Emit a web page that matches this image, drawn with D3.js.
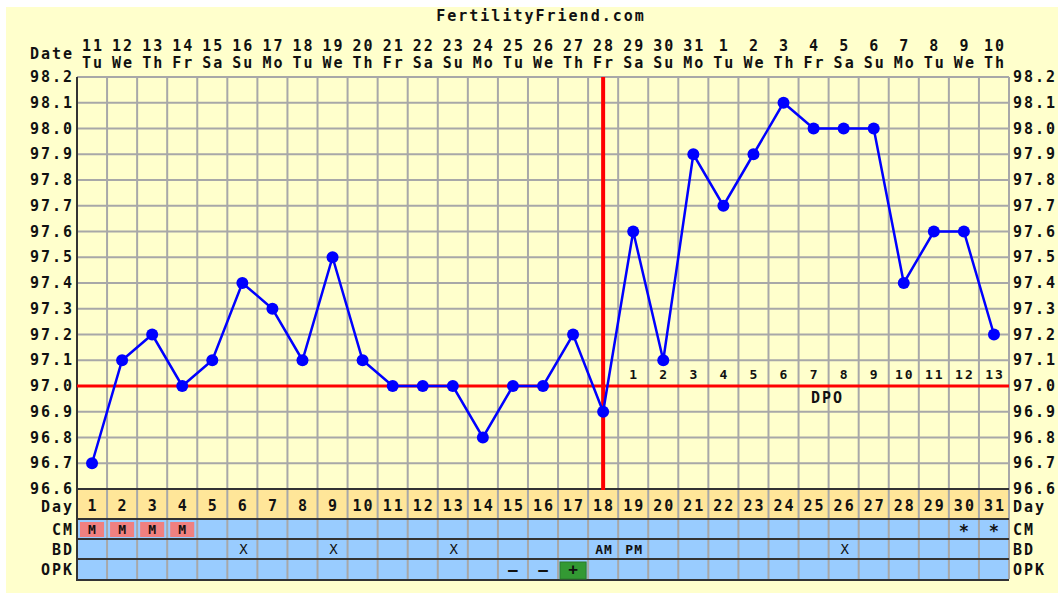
<!DOCTYPE html>
<html>
<head>
<meta charset="utf-8">
<script src="https://cdn.jsdelivr.net/npm/d3@7"></script>
<style>
  body { margin: 0; background: #fff; }
  text { font-family: "DejaVu Sans Mono", monospace; font-weight: bold; fill: #111; letter-spacing: 2px; }
</style>
</head>
<body>
<script>
// chart data
const cycleDays = d3.range(1, 32)
const dates = ['11','12','13','14','15','16','17','18','19','20','21','22','23','24','25','26','27','28','29','30','31','1','2','3','4','5','6','7','8','9','10']
const weekdays = ['Tu','We','Th','Fr','Sa','Su','Mo','Tu','We','Th','Fr','Sa','Su','Mo','Tu','We','Th','Fr','Sa','Su','Mo','Tu','We','Th','Fr','Sa','Su','Mo','Tu','We','Th']
const temps = [96.7,97.1,97.2,97.0,97.1,97.4,97.3,97.1,97.5,97.1,97.0,97.0,97.0,96.8,97.0,97.0,97.2,96.9,97.6,97.1,97.9,97.7,97.9,98.1,98.0,98.0,98.0,97.4,97.6,97.6,97.2]
const tempTicks = [96.6,96.7,96.8,96.9,97.0,97.1,97.2,97.3,97.4,97.5,97.6,97.7,97.8,97.9,98.0,98.1,98.2]
const coverline = 97.0
const ovulationDay = 18
const dpo = [1,2,3,4,5,6,7,8,9,10,11,12,13]   // days 19..31
const cm = [{day:1,v:'M'},{day:2,v:'M'},{day:3,v:'M'},{day:4,v:'M'},{day:30,v:'*'},{day:31,v:'*'}]
const bd = [{day:6,v:'X'},{day:9,v:'X'},{day:13,v:'X'},{day:18,v:'AM'},{day:19,v:'PM'},{day:26,v:'X'}]
const opk = [{day:15,v:'-'},{day:16,v:'-'},{day:17,v:'+'}]

const width = 1058, height = 593
const pLeft = 77, pRight = 1009, pTop = 77, pBottom = 489
const rowH = 20, dayRowH = 30
const fs = '15px'

const svg = d3.select('body').append('svg')
    .attr('width', width)
    .attr('height', height)

svg.append('rect').attr('x', 6).attr('y', 7)
    .attr('width', width).attr('height', height)
    .attr('fill', '#FFFFCC')

const x = d3.scaleBand().domain(cycleDays).range([pLeft, pRight])
const y = d3.scaleLinear().domain([96.6, 98.2]).range([pBottom, pTop])
const cx = d => x(d) + x.bandwidth() / 2 + 1   // +1 offsets trailing letter-spacing

// title
svg.append('text').attr('x', 541).attr('y', 21)
    .attr('text-anchor', 'middle').style('font-size', fs)
    .text('FertilityFriend.com')

// date header
svg.append('text').attr('x', 74).attr('y', 59).attr('text-anchor', 'end')
    .style('font-size', fs).text('Date')
svg.selectAll('.dnum').data(cycleDays).enter().append('text')
    .attr('x', cx).attr('y', 51).attr('text-anchor', 'middle')
    .style('font-size', fs).text((d, i) => dates[i])
svg.selectAll('.wday').data(cycleDays).enter().append('text')
    .attr('x', cx).attr('y', 68).attr('text-anchor', 'middle')
    .style('font-size', fs).text((d, i) => weekdays[i])

// row bands below the chart
const rowsTop = pBottom + dayRowH
svg.append('rect').attr('x', pLeft).attr('y', pBottom)
    .attr('width', pRight - pLeft).attr('height', dayRowH).attr('fill', '#FFE699')
svg.append('rect').attr('x', pLeft).attr('y', rowsTop)
    .attr('width', pRight - pLeft).attr('height', rowH * 3 + 1).attr('fill', '#99CCFF')

// grid
const g = svg.append('g')
g.selectAll('.hl').data(tempTicks).enter().append('line')
    .attr('x1', pLeft).attr('x2', pRight)
    .attr('y1', d => y(d)).attr('y2', d => y(d))
    .attr('stroke', '#A8A8A8').attr('stroke-width', 2)
g.selectAll('.vl').data(cycleDays.slice(1).concat([32])).enter().append('line')
    .attr('x1', d => d === 32 ? pRight : x(d)).attr('x2', d => d === 32 ? pRight : x(d))
    .attr('y1', pTop).attr('y2', rowsTop + rowH * 3)
    .attr('stroke', '#A8A8A8').attr('stroke-width', 2)

// dark row separators and left border
;[pBottom, rowsTop, rowsTop + rowH, rowsTop + rowH * 2, rowsTop + rowH * 3 + 1].forEach(yy => {
    svg.append('line').attr('x1', pLeft).attr('x2', pRight)
        .attr('y1', yy).attr('y2', yy)
        .attr('stroke', '#333').attr('stroke-width', 2)
})
svg.append('line').attr('x1', pLeft).attr('x2', pLeft)
    .attr('y1', pTop).attr('y2', rowsTop + rowH * 3 + 2)
    .attr('stroke', '#333').attr('stroke-width', 2)

// y axis labels on both sides
svg.selectAll('.yl').data(tempTicks).enter().append('text')
    .attr('x', 74).attr('y', d => y(d) + 5).attr('text-anchor', 'end')
    .style('font-size', fs).text(d => d.toFixed(1))
svg.selectAll('.yr').data(tempTicks).enter().append('text')
    .attr('x', 1013).attr('y', d => y(d) + 5)
    .style('font-size', fs).text(d => d.toFixed(1))

// row labels
const rowLabels = [['Day', pBottom + dayRowH / 2 + 2], ['CM', rowsTop + rowH / 2], ['BD', rowsTop + rowH * 1.5], ['OPK', rowsTop + rowH * 2.5]]
rowLabels.forEach(([t, yy]) => {
    svg.append('text').attr('x', 74).attr('y', yy + 6).attr('text-anchor', 'end')
        .style('font-size', fs).text(t)
    svg.append('text').attr('x', 1013).attr('y', yy + 6)
        .style('font-size', fs).text(t)
})

// cycle day numbers
svg.selectAll('.cd').data(cycleDays).enter().append('text')
    .attr('x', cx).attr('y', pBottom + dayRowH / 2 + 7).attr('text-anchor', 'middle')
    .style('font-size', fs).text(d => d)

// CM row
svg.selectAll('.cmbox').data(cm.filter(d => d.v === 'M')).enter().append('rect')
    .attr('x', d => x(d.day) + 3).attr('y', rowsTop + 3)
    .attr('width', x.bandwidth() - 6).attr('height', rowH - 5)
    .attr('fill', '#F08080')
svg.selectAll('.cmt').data(cm).enter().append('text')
    .attr('x', d => cx(d.day)).attr('y', d => rowsTop + rowH / 2 + (d.v === '*' ? 8 : 5))
    .attr('text-anchor', 'middle')
    .style('font-size', d => d.v === '*' ? '17px' : '13px').text(d => d.v)

// BD row
svg.selectAll('.bdt').data(bd).enter().append('text')
    .attr('x', d => cx(d.day)).attr('y', rowsTop + rowH * 1.5 + 5)
    .attr('text-anchor', 'middle')
    .style('font-size', d => d.v === 'X' ? '14px' : '13px')
    .style('font-weight', d => d.v === 'X' ? 'normal' : 'bold')
    .style('letter-spacing', d => d.v === 'X' ? '0px' : '1px')
    .text(d => d.v)

// OPK row
svg.selectAll('.opkbox').data(opk.filter(d => d.v === '+')).enter().append('rect')
    .attr('x', d => x(d.day) + 2).attr('y', rowsTop + rowH * 2 + 3)
    .attr('width', x.bandwidth() - 4).attr('height', rowH - 3)
    .attr('fill', '#339933').attr('stroke', '#2a7a2a')
svg.selectAll('.opkt').data(opk).enter().append('text')
    .attr('x', d => cx(d.day)).attr('y', rowsTop + rowH * 2.5 + 6)
    .attr('text-anchor', 'middle')
    .style('font-size', '16px').text(d => d.v === '-' ? '\u2013' : '+')

// coverline and ovulation line
svg.append('line').attr('x1', pLeft).attr('x2', pRight)
    .attr('y1', y(coverline)).attr('y2', y(coverline))
    .attr('stroke', '#FF0000').attr('stroke-width', 3)
svg.append('line').attr('x1', x(ovulationDay) + x.bandwidth() / 2).attr('x2', x(ovulationDay) + x.bandwidth() / 2)
    .attr('y1', pTop).attr('y2', pBottom + 1)
    .attr('stroke', '#FF0000').attr('stroke-width', 4)

// DPO labels
svg.selectAll('.dpo').data(dpo).enter().append('text')
    .attr('x', (d, i) => cx(ovulationDay + 1 + i)).attr('y', y(coverline) - 7)
    .attr('text-anchor', 'middle').style('font-size', '13px').text(d => d)
svg.append('text').attr('x', (cx(25) + cx(26)) / 2 - 2).attr('y', y(coverline) + 17)
    .attr('text-anchor', 'middle').style('font-size', fs).text('DPO')

// temperature line
const px = i => x(cycleDays[i]) + x.bandwidth() / 2
const line = d3.line().x((d, i) => px(i)).y(d => y(d))
svg.append('path').datum(temps).attr('d', line)
    .attr('fill', 'none').attr('stroke', '#0000FF').attr('stroke-width', 2.5)
svg.selectAll('.pt').data(temps).enter().append('circle')
    .attr('cx', (d, i) => px(i)).attr('cy', d => y(d))
    .attr('r', 6).attr('fill', '#0000FF')
</script>
</body>
</html>
